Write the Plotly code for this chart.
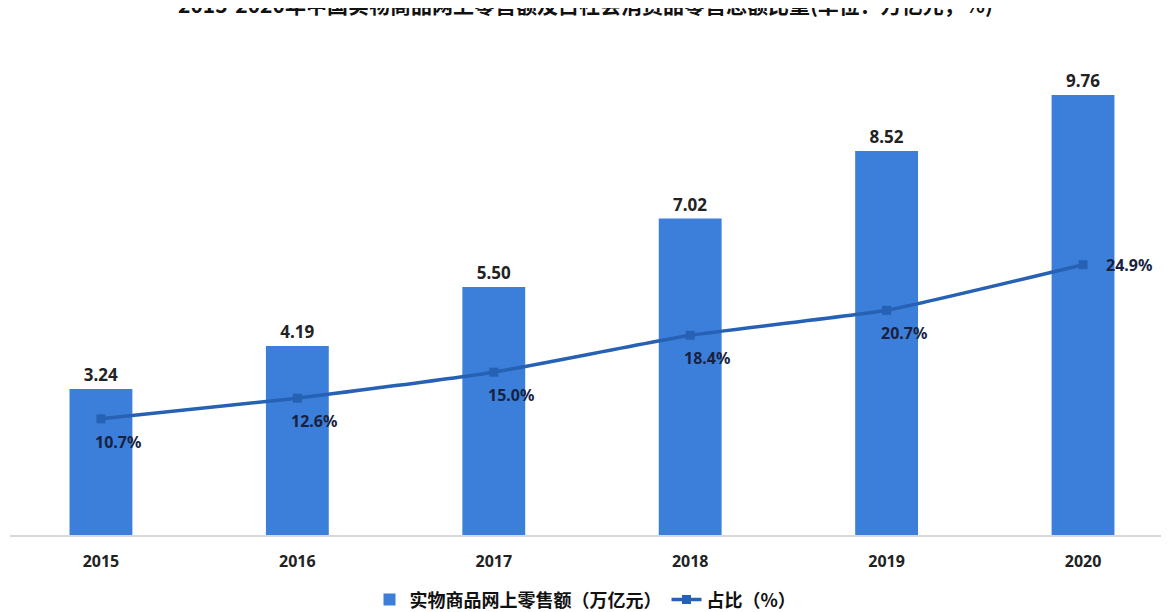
import plotly.graph_objects as go

years = ["2015", "2016", "2017", "2018", "2019", "2020"]
sales = [3.24, 4.19, 5.50, 7.02, 8.52, 9.76]          # 万亿元
share = [10.7, 12.6, 15.0, 18.4, 20.7, 24.9]          # %

BAR = "#3B7FDB"
LINE = "#2661B4"
FONT = "Noto Sans, Noto Sans CJK SC, sans-serif"

fig = go.Figure()

fig.add_trace(go.Bar(
    x=years, y=sales, name="实物商品网上零售额（万亿元）",
    marker=dict(color=BAR, line=dict(width=0)), width=0.32,
    text=[f"{v:.2f}" for v in sales], textposition="outside",
    textfont=dict(size=17, color="#222", family=FONT, weight="bold"),
    cliponaxis=False,
))

fig.add_trace(go.Scatter(
    x=years, y=share, name="占比（%）", yaxis="y2",
    mode="lines+markers",
    line=dict(color=LINE, width=3.5, shape="spline", smoothing=0.4),
    marker=dict(symbol="square", size=9, color=LINE),
))

# percentage labels next to line points (x given as category index)
for i, v in enumerate(share):
    last = i == len(share) - 1
    fig.add_annotation(
        x=i, y=v, xref="x", yref="y2", text=f"{v:.1f}%",
        showarrow=False, xshift=46 if last else 17, yshift=0 if last else -23,
        font=dict(size=16, color="#18223f", family=FONT, weight="bold"),
    )

# title (cropped at the top in the original)
fig.add_annotation(
    x=0.5, y=1.073, xref="paper", yref="paper",
    text="2015-2020年中国实物商品网上零售额及占社会消费品零售总额比重(单位：万亿元，%)",
    showarrow=False, yanchor="middle",
    font=dict(size=21, color="#111", family="Noto Sans CJK SC", weight="bold"),
)

hidden = dict(showticklabels=False, showline=False, zeroline=False,
              ticks="", showgrid=False)
fig.update_xaxes(
    type="category", range=[-0.463, 5.397],
    showline=True, linecolor="#d9d9d9", linewidth=1.5,
    ticks="", ticklabelstandoff=11,
    tickfont=dict(size=16, color="#222", family=FONT, weight="bold"),
    showgrid=False,
)
fig.update_layout(
    width=1171, height=612,
    margin=dict(l=2, r=18, t=32, b=85),
    plot_bgcolor="white", paper_bgcolor="white",
    yaxis=dict(range=[0, 10.98], **hidden),
    yaxis2=dict(range=[0, 45.6], overlaying="y", side="right", **hidden),
    showlegend=True,
    legend=dict(orientation="h", x=0.5, xanchor="center",
                yref="container", y=0.033, yanchor="middle",
                traceorder="normal",
                font=dict(size=18, color="#111",
                          family="Noto Sans CJK SC", weight="bold"),
                itemwidth=30),
    bargap=0.68,
)

fig.write_html("out.html")
